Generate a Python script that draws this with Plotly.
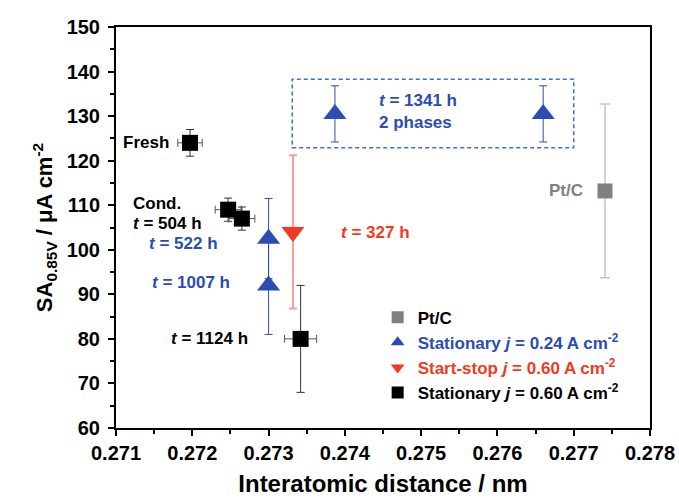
import plotly.graph_objects as go

# Pt/C reference catalyst
ptc_x = [0.27741]
ptc_y = [113.2]
ptc_yerr = [19.5]

# Stationary operation, j = 0.24 A cm-2 (t = 522 h, 1007 h, 1341 h two phases)
st024_x = [0.27300, 0.27300, 0.27387, 0.27660]
st024_y = [102.5, 92.0, 130.5, 130.5]
st024_yerr = [9.0, 11.0, 6.3, 6.3]

# Start-stop operation, j = 0.60 A cm-2 (t = 327 h)
ss060_x = [0.27332]
ss060_y = [104.0]
ss060_yerr = [17.2]

# Stationary operation, j = 0.60 A cm-2 (fresh, conditioned, 504 h, 1124 h)
st060_x = [0.27197, 0.27247, 0.27265, 0.27342]
st060_y = [124.0, 109.0, 107.0, 80.0]
st060_yerr = [3.0, 2.6, 2.6, 12.0]
st060_xerr = [0.00016, 0.00017, 0.00017, 0.00021]

x_ticks = [0.271, 0.272, 0.273, 0.274, 0.275, 0.276, 0.277, 0.278]
y_ticks = [60, 70, 80, 90, 100, 110, 120, 130, 140, 150]

BLUE = "#2b4db3"
RED = "#f03a24"
GRAY = "#808080"
FONT = "Liberation Sans"

fig = go.Figure()

fig.add_trace(go.Scatter(
    x=ptc_x, y=ptc_y, mode="markers",
    name="<span style='color:black'>Pt/C</span>",
    marker=dict(symbol="square", size=15, color=GRAY),
    error_y=dict(type="data", array=ptc_yerr, color="#b9c9d4", thickness=1.5, width=5),
))
fig.add_trace(go.Scatter(
    x=st024_x, y=st024_y, mode="markers",
    name=f"<span style='color:{BLUE}'>Stationary <i>j</i> = 0.24 A cm<sup>-2</sup></span>",
    marker=dict(symbol="triangle-up", size=20, color=BLUE),
    error_y=dict(type="data", array=st024_yerr, color=BLUE, thickness=1, width=4),
))
fig.add_trace(go.Scatter(
    x=ss060_x, y=ss060_y, mode="markers",
    name=f"<span style='color:{RED}'>Start-stop <i>j</i> = 0.60 A cm<sup>-2</sup></span>",
    marker=dict(symbol="triangle-down", size=20, color=RED),
    error_y=dict(type="data", array=ss060_yerr, color="#f5a09a", thickness=2, width=4),
))
fig.add_trace(go.Scatter(
    x=st060_x, y=st060_y, mode="markers",
    name="<span style='color:black'>Stationary <i>j</i> = 0.60 A cm<sup>-2</sup></span>",
    marker=dict(symbol="square", size=16, color="black"),
    error_y=dict(type="data", array=st060_yerr, color="#333333", thickness=1, width=4),
    error_x=dict(type="data", array=st060_xerr, color="#555555", thickness=1, width=4),
))

# dashed frame around the two-phase points at 1341 h
fig.add_shape(type="rect", x0=0.27331, x1=0.27700, y0=122.9, y1=138.3,
              line=dict(color="#3a6fd6", width=1.5, dash="4px,3px"))

def label(x, y, text, color, xanchor="left"):
    fig.add_annotation(x=x, y=y, text=text, showarrow=False, xanchor=xanchor,
                       font=dict(family=FONT, size=17, color=color))

label(0.27172, 124.0, "<b>Fresh</b>", "black", "right")
label(0.27120, 110.3, "<b>Cond.</b>", "black")
label(0.27120, 105.8, "<b><i>t</i> = 504 h</b>", "black")
label(0.27140, 101.5, "<b><i>t</i> = 522 h</b>", BLUE)
label(0.27145, 92.6, "<b><i>t</i> = 1007 h</b>", BLUE)
label(0.27275, 80.0, "<b><i>t</i> = 1124 h</b>", "black", "right")
label(0.27392, 103.8, "<b><i>t</i> = 327 h</b>", RED)
label(0.27715, 113.2, "<b>Pt/C</b>", GRAY, "right")
label(0.27442, 133.6, "<b><i>t</i> = 1341 h</b>", BLUE)
label(0.27442, 128.6, "<b>2 phases</b>", BLUE)

axis_common = dict(
    showline=True, linecolor="black", linewidth=2, mirror=True,
    ticks="outside", ticklen=6, tickwidth=2, tickcolor="black",
    showgrid=False, zeroline=False, automargin=False,
    tickfont=dict(family=FONT, size=20, color="black", weight="bold"),
)

fig.update_xaxes(
    range=[0.271, 0.278], tickvals=x_ticks,
    ticktext=[f"{v:.3f}" for v in x_ticks],
    minor=dict(ticks="outside", ticklen=4, tickwidth=1.5, tickcolor="black", dtick=0.0005),
    title=dict(text="<b>Interatomic distance / nm</b>", standoff=12,
               font=dict(family=FONT, size=24, color="black")),
    **axis_common,
)
fig.update_yaxes(
    range=[60, 150], tickvals=y_ticks,
    minor=dict(ticks="outside", ticklen=4, tickwidth=1.5, tickcolor="black", dtick=5),
    ticklabelstandoff=4,
    title=dict(text="<b>SA<sub>0.85V</sub> / μA cm<sup>-2</sup></b>", standoff=8,
               font=dict(family=FONT, size=22, color="black")),
    **axis_common,
)

fig.update_layout(
    width=679, height=498,
    margin=dict(l=116, r=29, t=27, b=70),
    plot_bgcolor="white", paper_bgcolor="white",
    showlegend=True,
    legend=dict(x=0.49, y=0.32, xanchor="left", yanchor="top",
                bgcolor="rgba(0,0,0,0)",
                font=dict(family=FONT, size=17, color="black", weight="bold"),
                itemsizing="constant", tracegroupgap=0),
)

fig.write_html("out.html")
